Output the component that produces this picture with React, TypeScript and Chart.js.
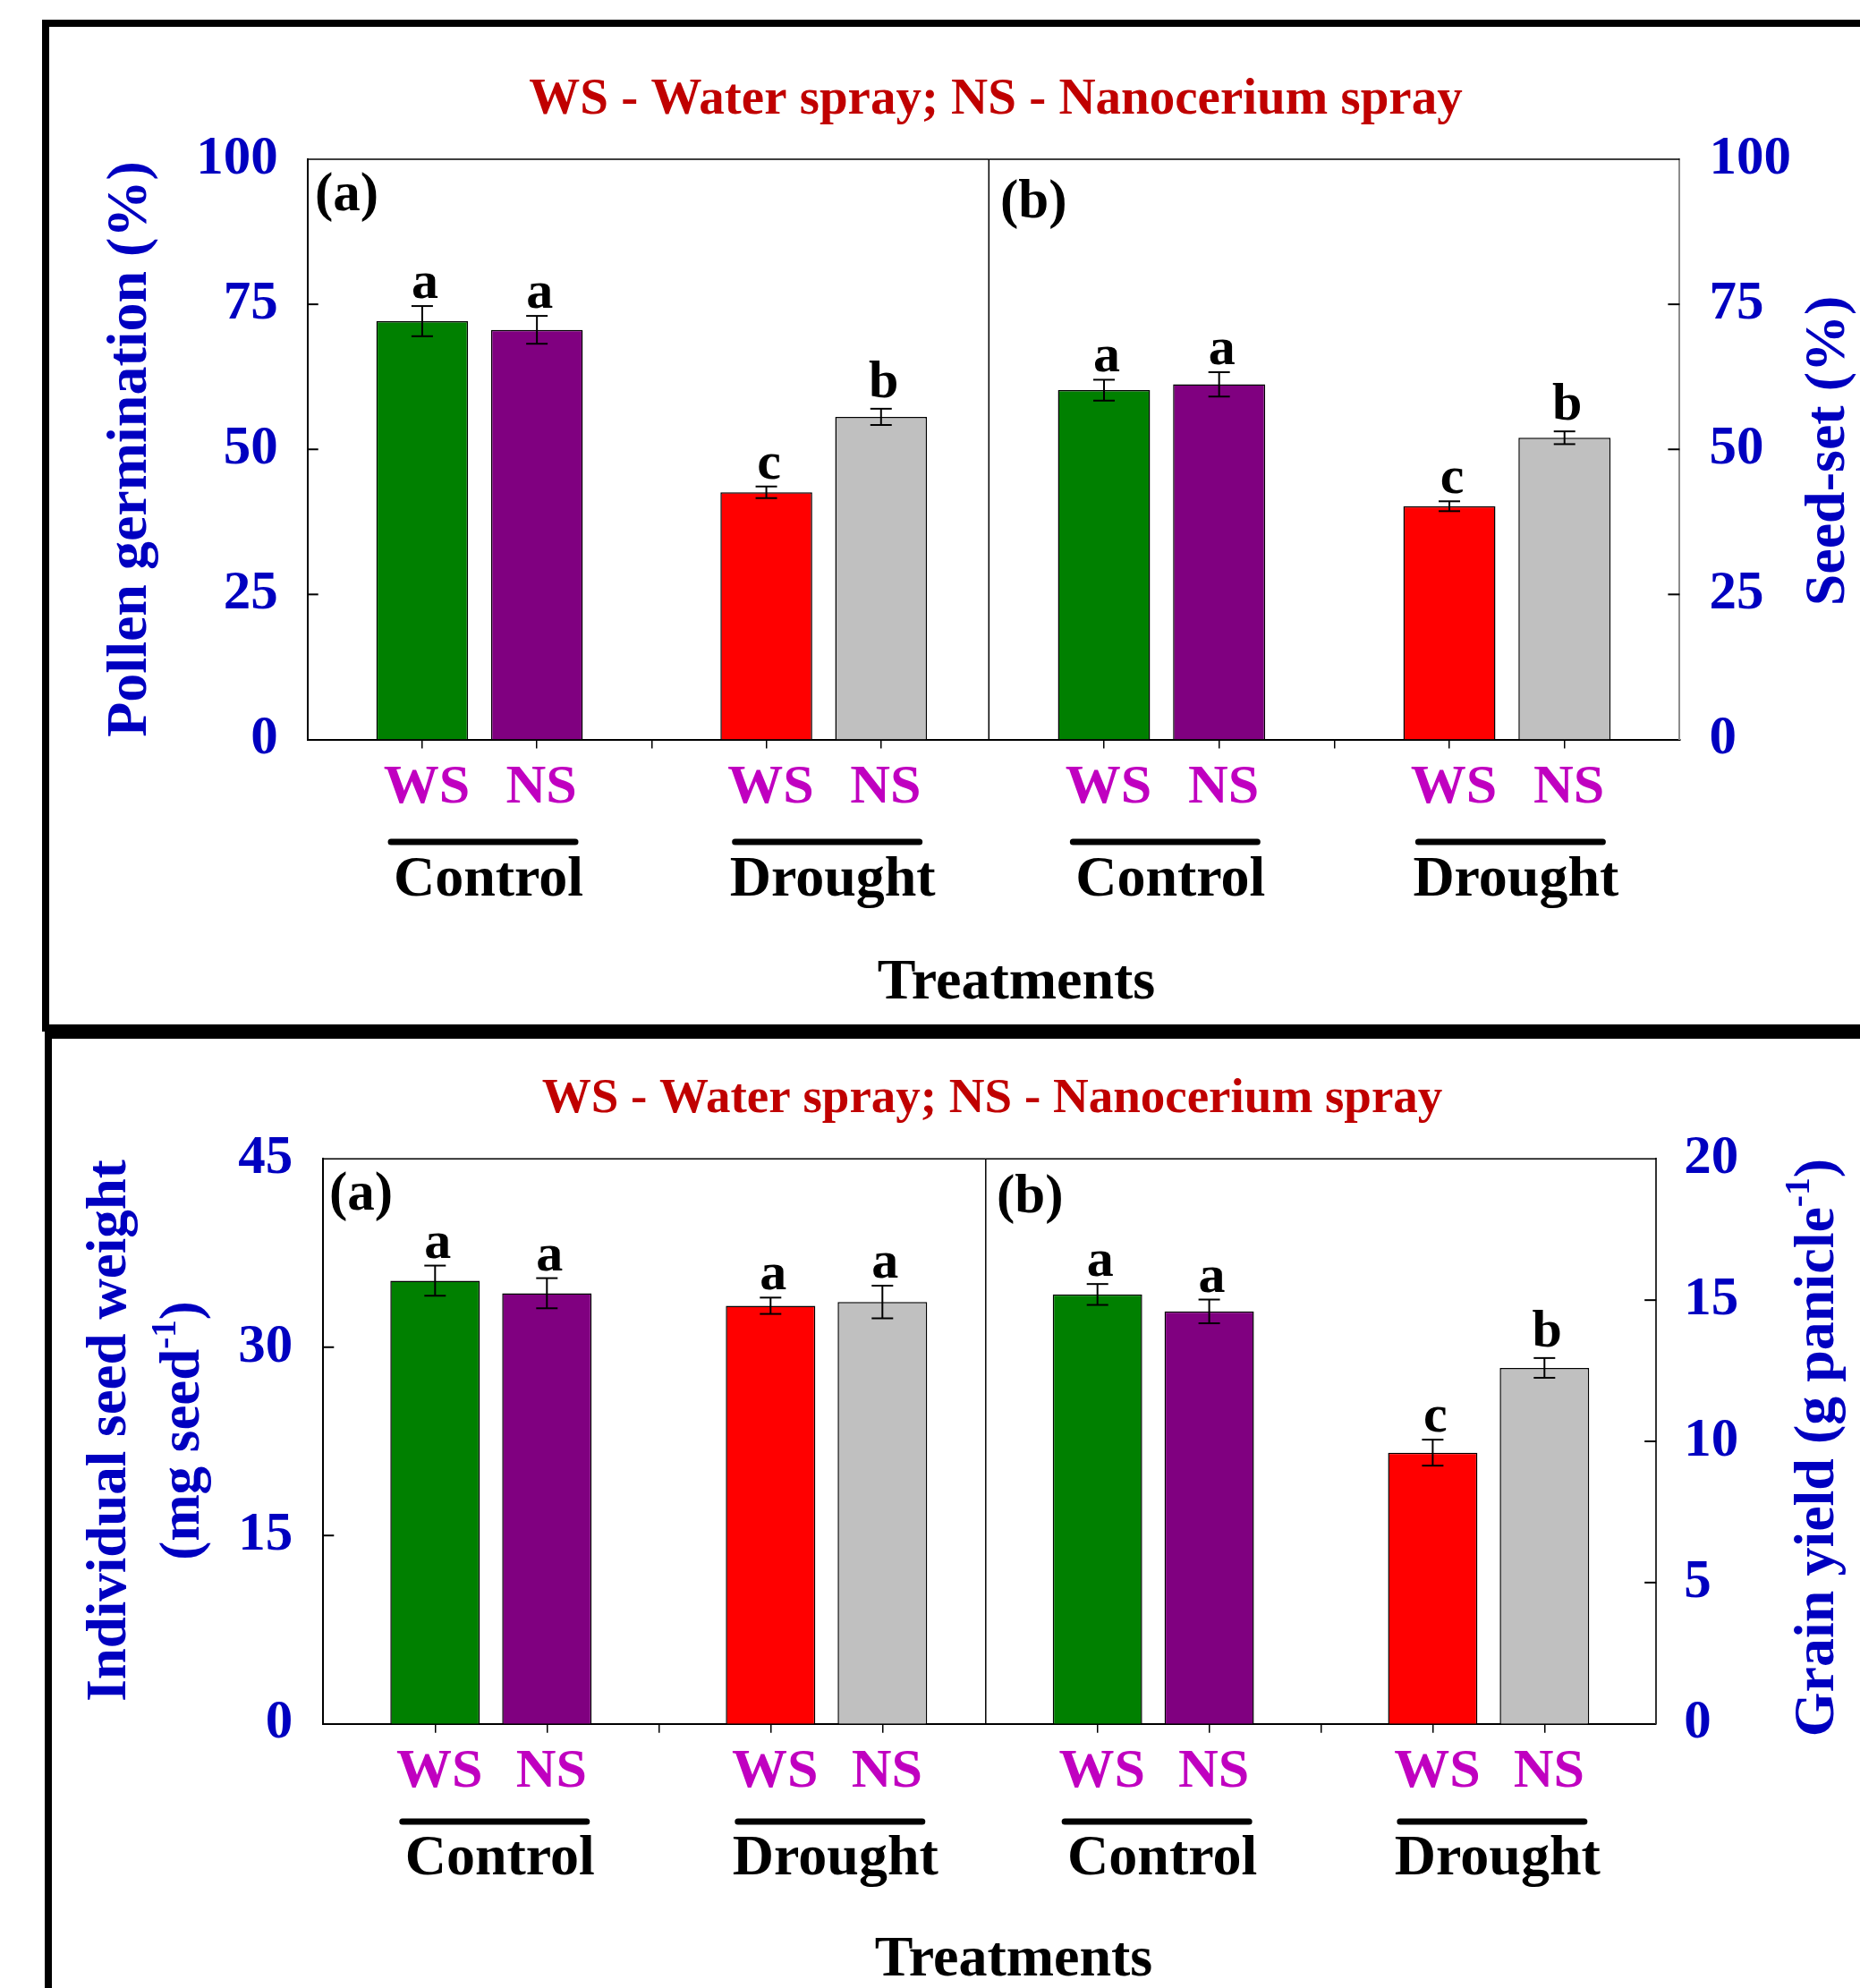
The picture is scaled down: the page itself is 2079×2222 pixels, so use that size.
import React, { useEffect, useRef } from 'react';
import { Chart, registerables } from 'chart.js';

Chart.register(...registerables);

const PAGE_W = 2079;
const PAGE_H = 2222;
const SERIF = "'Liberation Serif', 'Times New Roman', serif";
const BLUE = '#0000c0';
const MAGENTA = '#c000c0';
const DARK_RED = '#c00000';

// ---------------- data ----------------
const treatments = ['WS', 'NS', 'WS', 'NS'];
const groups = ['Control', 'Drought'];
const barColors = ['#008000', '#800080', '#ff0000', '#c0c0c0'];
const legendTitle = 'WS - Water spray; NS - Nanocerium spray';
const xAxisTitle = 'Treatments';

const pollenGermination = [72.1, 70.6, 42.6, 55.6];
const pollenGerminationSE = [2.6, 2.4, 1.0, 1.4];
const pollenGerminationLetters = ['a', 'a', 'c', 'b'];

const seedSet = [60.2, 61.2, 40.2, 52.0];
const seedSetSE = [1.8, 2.1, 0.85, 1.1];
const seedSetLetters = ['a', 'a', 'c', 'b'];

const seedWeight = [35.3, 34.3, 33.3, 33.6];
const seedWeightSE = [1.2, 1.2, 0.65, 1.3];
const seedWeightLetters = ['a', 'a', 'a', 'a'];

const grainYield = [15.2, 14.6, 9.6, 12.6];
const grainYieldSE = [0.37, 0.42, 0.46, 0.35];
const grainYieldLetters = ['a', 'a', 'c', 'b'];

const percentTicks = [0, 25, 50, 75, 100];
const seedWeightTicks = [0, 15, 30, 45];
const grainYieldTicks = [0, 5, 10, 15, 20];

// ---------------- layout ----------------
const slotOf = (i: number) => Math.floor(i / 2) * 3 + (i % 2) + 1;
const slotTicks = [1, 2, 3, 4, 5];
const labelForSlot = (v: number) => {
  const i = treatments.findIndex((_, k) => slotOf(k) === v);
  return i < 0 ? '' : treatments[i];
};

type Seg = { t: string; sup?: boolean };
type Panel = {
  values: number[];
  se: number[];
  letters: string[];
  yTicks: number[];
  side: 'left' | 'right';
  area: { l: number; t: number; r: number; b: number };
  xMax: number;
  label: string;
  labelPos: [number, number];
  tickPad: number;
  underlineY: number;
  groupBaseline: number;
  yTitle: { lines: { segs: Seg[]; x: number }[]; cy: number; size: number };
  axisColor: string;
  figure?: { titleX: number; titleY: number; titleSize: number; treatX: number; treatY: number };
};

const panels: Panel[] = [
  {
    values: pollenGermination, se: pollenGerminationSE, letters: pollenGerminationLetters, yTicks: percentTicks,
    side: 'left', area: { l: 343.7, t: 178, r: 1105.3, b: 826.5 }, xMax: 5.94,
    label: '(a)', labelPos: [352, 235], tickPad: 33, underlineY: 941, groupBaseline: 1001,
    yTitle: { lines: [{ segs: [{ t: 'Pollen germination (%)' }], x: 163 }], cy: 502, size: 64 },
    axisColor: '#000',
    figure: { titleX: 1113, titleY: 127, titleSize: 57, treatX: 1136, treatY: 1116 },
  },
  {
    values: seedSet, se: seedSetSE, letters: seedSetLetters, yTicks: percentTicks,
    side: 'right', area: { l: 1105.3, t: 178, r: 1877.4, b: 826.5 }, xMax: 6,
    label: '(b)', labelPos: [1118, 243], tickPad: 33, underlineY: 941, groupBaseline: 1001,
    yTitle: { lines: [{ segs: [{ t: 'Seed-set (%)' }], x: 2061 }], cy: 504, size: 64 },
    axisColor: '#8c8c8c',
  },
  {
    values: seedWeight, se: seedWeightSE, letters: seedWeightLetters, yTicks: seedWeightTicks,
    side: 'left', area: { l: 361.3, t: 1295.3, r: 1101.8, b: 1926.7 }, xMax: 5.924,
    label: '(a)', labelPos: [368, 1352], tickPad: 34, underlineY: 2036, groupBaseline: 2095,
    yTitle: {
      lines: [
        { segs: [{ t: 'Individual seed weight' }], x: 140 },
        { segs: [{ t: '(mg seed' }, { t: '-1', sup: true }, { t: ')' }], x: 222 },
      ],
      cy: 1599, size: 63,
    },
    axisColor: '#000',
    figure: { titleX: 1109, titleY: 1243, titleSize: 55, treatX: 1133, treatY: 2208 },
  },
  {
    values: grainYield, se: grainYieldSE, letters: grainYieldLetters, yTicks: grainYieldTicks,
    side: 'right', area: { l: 1101.8, t: 1295.3, r: 1851.2, b: 1926.7 }, xMax: 6,
    label: '(b)', labelPos: [1114, 1355], tickPad: 31, underlineY: 2036, groupBaseline: 2095,
    yTitle: { lines: [{ segs: [{ t: 'Grain yield (g panicle' }, { t: '-1', sup: true }, { t: ')' }], x: 2049 }], cy: 1618, size: 64 },
    axisColor: '#333',
  },
];

const AXW = 200;
const AXH = 150;

function drawSegs(ctx: CanvasRenderingContext2D, segs: Seg[], x: number, y: number, size: number, color: string, rotate: boolean) {
  ctx.save();
  ctx.translate(x, y);
  if (rotate) ctx.rotate(-Math.PI / 2);
  ctx.fillStyle = color;
  ctx.textBaseline = 'alphabetic';
  ctx.textAlign = 'left';
  const supSize = size * 0.62;
  const widths = segs.map((s) => {
    ctx.font = `bold ${s.sup ? supSize : size}px ${SERIF}`;
    return ctx.measureText(s.t).width;
  });
  const total = widths.reduce((a, b) => a + b, 0);
  let pos = -total / 2;
  segs.forEach((s, i) => {
    ctx.font = `bold ${s.sup ? supSize : size}px ${SERIF}`;
    ctx.fillText(s.t, pos, s.sup ? -size * 0.42 : 0);
    pos += widths[i];
  });
  ctx.restore();
}

function line(ctx: CanvasRenderingContext2D, x1: number, y1: number, x2: number, y2: number) {
  ctx.beginPath();
  ctx.moveTo(x1, y1);
  ctx.lineTo(x2, y2);
  ctx.stroke();
}

function makePlugin(panel: Panel) {
  return {
    id: 'panelDecor',
    afterDatasetsDraw(chart: any) {
      const ctx: CanvasRenderingContext2D = chart.ctx;
      const xs = chart.scales.x;
      const ys = chart.scales.y;
      ctx.save();
      ctx.strokeStyle = '#000';
      ctx.lineWidth = 2;
      panel.values.forEach((v, i) => {
        const px = xs.getPixelForValue(slotOf(i));
        const top = ys.getPixelForValue(v + panel.se[i]);
        const bot = ys.getPixelForValue(v - panel.se[i]);
        line(ctx, px, top, px, bot);
        line(ctx, px - 12, top, px + 12, top);
        line(ctx, px - 12, bot, px + 12, bot);
        const letter = panel.letters[i];
        ctx.font = `bold 60px ${SERIF}`;
        ctx.fillStyle = '#000';
        ctx.textAlign = 'center';
        ctx.textBaseline = 'alphabetic';
        ctx.fillText(letter, px + 3, top - (letter === 'b' ? 13 : 9));
      });
      ctx.restore();
    },
    afterDraw(chart: any) {
      const ctx: CanvasRenderingContext2D = chart.ctx;
      const a = chart.chartArea;
      const xs = chart.scales.x;
      const ys = chart.scales.y;
      ctx.save();
      ctx.strokeStyle = '#000';
      ctx.lineWidth = 1.5;
      line(ctx, a.left, a.top, a.right, a.top);
      if (panel.side === 'right') line(ctx, a.left, a.top, a.left, a.bottom);
      ctx.lineWidth = 2;
      ctx.strokeStyle = '#000';
      panel.yTicks.slice(1, -1).forEach((v) => {
        const py = ys.getPixelForValue(v);
        if (panel.side === 'left') line(ctx, a.left, py, a.left + 12, py);
        else line(ctx, a.right - 13, py, a.right, py);
      });
      ctx.font = `bold 61px ${SERIF}`;
      ctx.fillStyle = '#000';
      ctx.textAlign = 'left';
      ctx.textBaseline = 'alphabetic';
      ctx.fillText(panel.label, panel.labelPos[0], panel.labelPos[1]);
      groups.forEach((g, gi) => {
        const c = (xs.getPixelForValue(slotOf(gi * 2)) + xs.getPixelForValue(slotOf(gi * 2 + 1))) / 2;
        ctx.strokeStyle = '#000';
        ctx.lineWidth = 7;
        ctx.lineCap = 'round';
        line(ctx, c + 4 - 103, panel.underlineY, c + 4 + 103, panel.underlineY);
        ctx.font = `bold 64px ${SERIF}`;
        ctx.fillStyle = '#000';
        ctx.textAlign = 'center';
        ctx.fillText(g, c + 10, panel.groupBaseline);
      });
      panel.yTitle.lines.forEach((ln) => drawSegs(ctx, ln.segs, ln.x, panel.yTitle.cy, panel.yTitle.size, BLUE, true));
      if (panel.figure) {
        const f = panel.figure;
        drawSegs(ctx, [{ t: legendTitle }], f.titleX, f.titleY, f.titleSize, DARK_RED, false);
        drawSegs(ctx, [{ t: xAxisTitle }], f.treatX, f.treatY, 64, '#000', false);
      }
      ctx.restore();
    },
  };
}

function buildConfig(panel: Panel): any {
  const { area, side } = panel;
  const padding = {
    left: side === 'left' ? area.l - AXW : area.l,
    right: side === 'right' ? PAGE_W - area.r - AXW : PAGE_W - area.r,
    top: area.t,
    bottom: PAGE_H - area.b - AXH,
  };
  return {
    type: 'bar',
    data: {
      datasets: [
        {
          data: panel.values.map((v, i) => ({ x: slotOf(i), y: v })),
          backgroundColor: barColors,
          borderColor: '#000',
          borderWidth: 1.5,
          borderSkipped: 'start',
          barPercentage: 0.8,
          categoryPercentage: 1,
        },
      ],
    },
    options: {
      animation: false,
      responsive: false,
      maintainAspectRatio: false,
      devicePixelRatio: 1,
      events: [],
      layout: { padding },
      plugins: { legend: { display: false }, tooltip: { enabled: false }, title: { display: false } },
      scales: {
        x: {
          type: 'linear',
          offset: false,
          min: 0,
          max: panel.xMax,
          afterBuildTicks: (s: any) => {
            s.ticks = slotTicks.map((v) => ({ value: v }));
          },
          afterFit: (s: any) => {
            s.height = AXH;
          },
          grid: { display: true, offset: false, drawOnChartArea: false, drawTicks: true, tickLength: 10, color: '#000', lineWidth: 1.5 },
          border: { display: true, color: '#000', width: 2 },
          ticks: {
            autoSkip: false,
            maxRotation: 0,
            minRotation: 0,
            padding: 7,
            labelOffset: 5,
            color: MAGENTA,
            font: { family: SERIF, size: 62, weight: 'bold', lineHeight: 1.2 },
            callback: (v: number) => labelForSlot(v),
          },
        },
        y: {
          type: 'linear',
          position: side,
          min: panel.yTicks[0],
          max: panel.yTicks[panel.yTicks.length - 1],
          afterBuildTicks: (s: any) => {
            s.ticks = panel.yTicks.map((v) => ({ value: v }));
          },
          afterFit: (s: any) => {
            s.width = AXW;
          },
          grid: { display: false, drawTicks: false, drawOnChartArea: false },
          border: { display: true, color: panel.axisColor, width: 2 },
          ticks: {
            padding: panel.tickPad,
            color: BLUE,
            font: { family: SERIF, size: 61, weight: 'bold' },
            callback: (v: number) => String(v),
          },
        },
      },
    },
    plugins: [makePlugin(panel)],
  };
}

function PanelChart({ panel }: { panel: Panel }) {
  const ref = useRef<HTMLCanvasElement>(null);
  useEffect(() => {
    if (!ref.current) return;
    const chart = new Chart(ref.current, buildConfig(panel));
    return () => chart.destroy();
  }, [panel]);
  return (
    <canvas
      ref={ref}
      width={PAGE_W}
      height={PAGE_H}
      style={{ position: 'absolute', left: 0, top: 0, width: PAGE_W, height: PAGE_H }}
    />
  );
}

export default function App() {
  return (
    <div
      style={{
        position: 'absolute',
        left: 0,
        top: 0,
        width: PAGE_W,
        height: PAGE_H,
        overflow: 'hidden',
        background: '#fff',
      }}
    >
      <div
        style={{
          position: 'absolute',
          left: 47,
          top: 22,
          width: 2200,
          height: 1131,
          border: '8px solid #000',
          boxSizing: 'border-box',
        }}
      />
      <div
        style={{
          position: 'absolute',
          left: 50,
          top: 1153,
          width: 2200,
          height: 1200,
          border: '8px solid #000',
          boxSizing: 'border-box',
        }}
      />
      {panels.map((p, i) => (
        <PanelChart key={i} panel={p} />
      ))}
    </div>
  );
}
